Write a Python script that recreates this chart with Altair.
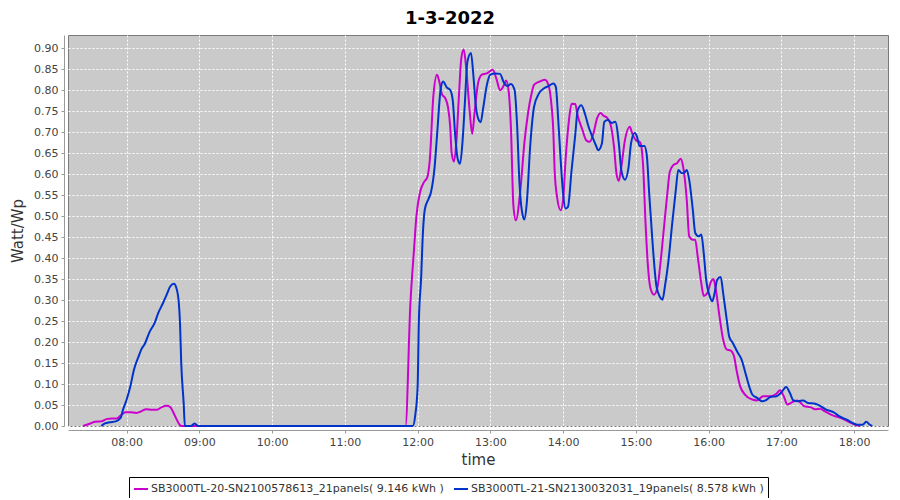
import altair as alt
import pandas as pd

LABEL_A = "SB3000TL-20-SN2100578613_21panels( 9.146 kWh )"
LABEL_B = "SB3000TL-21-SN2130032031_19panels( 8.578 kWh )"

# magenta series (SB3000TL-20)
a_times = ["07:24", "07:30", "07:34", "07:39", "07:44", "07:48", "07:52", "07:55", "07:59", "08:03",
           "08:08", "08:12", "08:16", "08:21", "08:25", "08:29", "08:33", "08:36", "08:38", "08:41",
           "08:44", "08:45", "11:50", "11:54", "11:57", "11:59", "12:02", "12:05", "12:08", "12:10",
           "12:13", "12:16", "12:18", "12:20", "12:23", "12:25", "12:27", "12:28", "12:30", "12:32",
           "12:34", "12:36", "12:38", "12:40", "12:43", "12:45", "12:47", "12:50", "12:53", "12:57",
           "13:02", "13:05", "13:08", "13:11", "13:13", "13:15", "13:17", "13:19", "13:21", "13:25",
           "13:28", "13:31", "13:34", "13:36", "13:40", "13:45", "13:48", "13:50", "13:52", "13:53",
           "13:55", "13:58", "14:00", "14:02", "14:05", "14:07", "14:10", "14:12", "14:16", "14:19",
           "14:22", "14:25", "14:28", "14:31", "14:33", "14:36", "14:39", "14:42", "14:44", "14:46",
           "14:48", "14:51", "14:55", "14:57", "15:00", "15:03", "15:04", "15:06", "15:08", "15:10",
           "15:12", "15:15", "15:18", "15:20", "15:23", "15:26", "15:28", "15:31", "15:34", "15:37",
           "15:39", "15:42", "15:44", "15:47", "15:49", "15:51", "15:54", "15:56", "15:59", "16:02",
           "16:04", "16:06", "16:09", "16:12", "16:15", "16:18", "16:21", "16:23", "16:26", "16:30",
           "16:36", "16:40", "16:45", "16:51", "16:56", "16:59", "17:02", "17:05", "17:08", "17:13",
           "17:16", "17:19", "17:24", "17:28", "17:32", "17:36", "17:41", "17:47", "17:52", "17:58",
           "18:02", "18:05"]
a_vals = [0.0, 0.006, 0.010, 0.011, 0.017, 0.018, 0.018, 0.025, 0.033, 0.033,
          0.031, 0.035, 0.040, 0.039, 0.039, 0.045, 0.048, 0.045, 0.035, 0.017,
          0.002, 0.0, 0.0, 0.29, 0.42, 0.50, 0.557, 0.58, 0.593, 0.633,
          0.787, 0.837, 0.819, 0.791, 0.78, 0.76, 0.708, 0.652, 0.63, 0.68,
          0.783, 0.875, 0.897, 0.855, 0.748, 0.696, 0.748, 0.819, 0.837, 0.84,
          0.849, 0.827, 0.80, 0.811, 0.823, 0.80, 0.708, 0.525, 0.49, 0.57,
          0.673, 0.744, 0.792, 0.813, 0.82, 0.825, 0.812, 0.776, 0.697, 0.61,
          0.546, 0.514, 0.538, 0.633, 0.733, 0.768, 0.767, 0.74, 0.705, 0.681,
          0.677, 0.697, 0.733, 0.746, 0.74, 0.735, 0.72, 0.665, 0.602, 0.584,
          0.617, 0.681, 0.713, 0.697, 0.681, 0.677, 0.673, 0.62, 0.483, 0.38,
          0.329, 0.313, 0.333, 0.38, 0.467, 0.555, 0.606, 0.622, 0.626, 0.637,
          0.618, 0.539, 0.452, 0.444, 0.444, 0.404, 0.34, 0.31, 0.317, 0.344,
          0.35, 0.325, 0.261, 0.206, 0.182, 0.18, 0.166, 0.134, 0.095, 0.075,
          0.063, 0.061, 0.071, 0.071, 0.077, 0.085, 0.071, 0.051, 0.055, 0.061,
          0.055, 0.047, 0.045, 0.04, 0.041, 0.035, 0.027, 0.021, 0.015, 0.007,
          0.002, 0.0]

# blue series (SB3000TL-21)
b_times = ["07:39", "07:42", "07:46", "07:51", "07:55", "07:57", "08:00", "08:03", "08:06", "08:10",
           "08:12", "08:15", "08:19", "08:23", "08:26", "08:30", "08:33", "08:36", "08:39", "08:41",
           "08:43", "08:44", "08:45", "08:47", "08:48", "08:53", "08:56", "08:59", "11:56", "11:58",
           "12:00", "12:01", "12:03", "12:04", "12:06", "12:09", "12:11", "12:14", "12:16", "12:19",
           "12:21", "12:24", "12:27", "12:29", "12:31", "12:33", "12:35", "12:37", "12:39", "12:41",
           "12:44", "12:46", "12:48", "12:50", "12:52", "12:54", "12:57", "13:00", "13:04", "13:08",
           "13:11", "13:14", "13:17", "13:20", "13:22", "13:24", "13:25", "13:27", "13:28", "13:30",
           "13:33", "13:36", "13:40", "13:44", "13:48", "13:52", "13:54", "13:56", "13:58", "14:00",
           "14:02", "14:04", "14:07", "14:10", "14:12", "14:15", "14:18", "14:21", "14:24", "14:27",
           "14:29", "14:32", "14:34", "14:37", "14:40", "14:43", "14:46", "14:48", "14:51", "14:54",
           "14:56", "14:59", "15:01", "15:03", "15:07", "15:09", "15:11", "15:14", "15:17", "15:20",
           "15:22", "15:24", "15:27", "15:30", "15:33", "15:35", "15:38", "15:40", "15:42", "15:44",
           "15:47", "15:49", "15:52", "15:54", "15:56", "15:58", "16:01", "16:03", "16:05", "16:07",
           "16:10", "16:12", "16:15", "16:17", "16:20", "16:24", "16:27", "16:31", "16:34", "16:36",
           "16:40", "16:44", "16:47", "16:51", "16:56", "17:00", "17:04", "17:07", "17:10", "17:14",
           "17:18", "17:22", "17:28", "17:32", "17:37", "17:43", "17:48", "17:54", "17:59", "18:03",
           "18:07", "18:10", "18:13", "18:15"]
b_vals = [0.0, 0.006, 0.009, 0.011, 0.019, 0.039, 0.063, 0.094, 0.134, 0.167,
          0.182, 0.196, 0.225, 0.245, 0.269, 0.293, 0.313, 0.333, 0.339, 0.329,
          0.293, 0.245, 0.15, 0.055, 0.0, 0.0, 0.006, 0.0, 0.0, 0.025,
          0.093, 0.248, 0.359, 0.438, 0.517, 0.541, 0.557, 0.617, 0.692, 0.803,
          0.821, 0.807, 0.80, 0.775, 0.692, 0.637, 0.625, 0.676, 0.771, 0.867,
          0.889, 0.835, 0.763, 0.732, 0.724, 0.756, 0.811, 0.837, 0.84, 0.839,
          0.819, 0.81, 0.815, 0.80, 0.72, 0.58, 0.538, 0.498, 0.492, 0.53,
          0.673, 0.76, 0.792, 0.804, 0.81, 0.816, 0.808, 0.729, 0.633, 0.554,
          0.518, 0.522, 0.61, 0.693, 0.752, 0.764, 0.744, 0.713, 0.69, 0.669,
          0.657, 0.673, 0.725, 0.729, 0.722, 0.725, 0.673, 0.61, 0.587, 0.617,
          0.673, 0.698, 0.689, 0.667, 0.667, 0.646, 0.555, 0.428, 0.333, 0.307,
          0.301, 0.333, 0.396, 0.483, 0.563, 0.61, 0.602, 0.604, 0.61, 0.587,
          0.515, 0.46, 0.452, 0.456, 0.412, 0.348, 0.309, 0.297, 0.317, 0.348,
          0.355, 0.317, 0.253, 0.213, 0.198, 0.175, 0.16, 0.12, 0.09, 0.075,
          0.067, 0.059, 0.061, 0.069, 0.071, 0.08, 0.093, 0.079, 0.061, 0.059,
          0.061, 0.055, 0.053, 0.048, 0.039, 0.033, 0.023, 0.015, 0.007, 0.003,
          0.003, 0.01, 0.003, 0.0]

y_ticks = [0.0, 0.05, 0.10, 0.15, 0.20, 0.25, 0.30, 0.35, 0.40, 0.45,
           0.50, 0.55, 0.60, 0.65, 0.70, 0.75, 0.80, 0.85, 0.90]
x_hours = [8, 9, 10, 11, 12, 13, 14, 15, 16, 17, 18]

rows = []
for t, v in zip(a_times, a_vals):
    rows.append({"t": f"2022-03-01T{t}:00", "v": v, "s": LABEL_A})
for t, v in zip(b_times, b_vals):
    rows.append({"t": f"2022-03-01T{t}:00", "v": v, "s": LABEL_B})
df = pd.DataFrame(rows)

FONT = "DejaVu Sans"

def dt(h, m=0, s=0):
    return alt.DateTime(year=2022, month=3, date=1, hours=h, minutes=m, seconds=s)

chart = alt.Chart(df).mark_line(strokeWidth=2, interpolate="monotone").encode(
    x=alt.X("t:T",
            scale=alt.Scale(domain=[dt(7, 11, 36), dt(18, 28, 0)]),
            axis=alt.Axis(values=[dt(h) for h in x_hours], format="%H:%M", title="time",
                          offset=4, tickSize=3, labelPadding=3, titlePadding=5)),
    y=alt.Y("v:Q",
            scale=alt.Scale(domain=[0, 0.9316], nice=False, zero=False),
            axis=alt.Axis(values=y_ticks, format=".2f", title="Watt/Wp",
                          offset=4, tickSize=3, labelPadding=3, titlePadding=8)),
    color=alt.Color("s:N",
                    scale=alt.Scale(domain=[LABEL_A, LABEL_B], range=["#cc00cc", "#0033cc"]),
                    legend=alt.Legend(title=None, orient="none", legendX=61, legendY=442,
                                      direction="horizontal", symbolType="stroke",
                                      symbolStrokeWidth=2, symbolSize=196,
                                      strokeColor="black", fillColor="white", padding=4,
                                      labelFont=FONT, labelFontSize=11, labelColor="#333333",
                                      labelLimit=600, columnPadding=6, labelOffset=2)),
    order=alt.Order("t:T"),
).properties(
    width=820,
    height=391,
    title=alt.TitleParams("1-3-2022", font=FONT, fontSize=18, fontWeight="bold",
                          color="black", anchor="middle", dx=-28, offset=7),
    autosize=alt.AutoSizeParams(type="none"),
    padding={"left": 60, "top": 27, "right": 4, "bottom": 72},
    background="white",
).configure_view(
    fill="#cacaca", stroke="#7a7a7a", strokeWidth=1
).configure_axis(
    labelFont=FONT, labelFontSize=11, labelColor="#444444",
    titleFont=FONT, titleFontSize=15, titleFontWeight="normal", titleColor="#333333",
    domainColor="#999999", tickColor="#999999",
    grid=True, gridColor="white", gridDash=[2, 2], gridWidth=1, gridOpacity=1,
)

chart.save("out.html", embed_options={"renderer": "svg", "actions": False})
